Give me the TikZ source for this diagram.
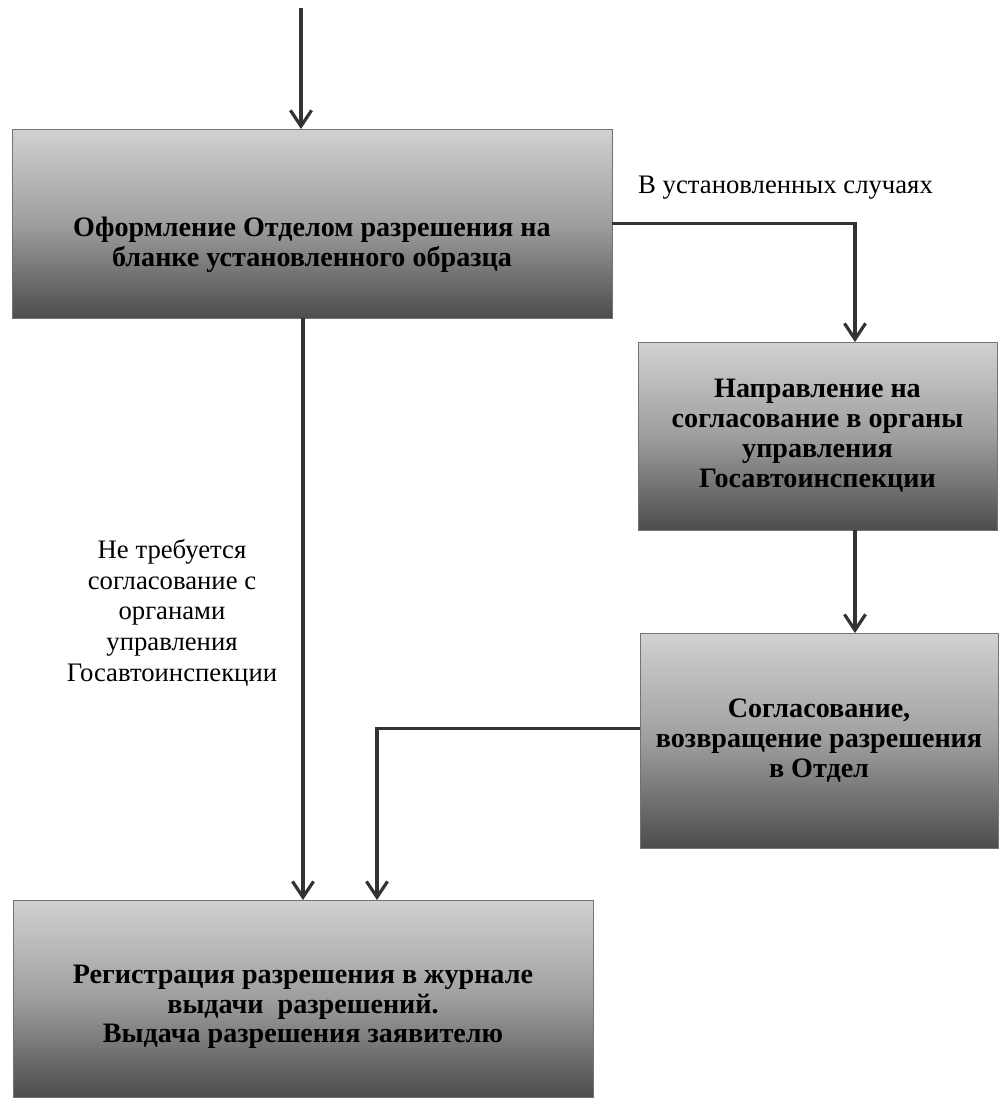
\documentclass[tikz,border=0pt]{standalone}
\usepackage{fontspec}
\setmainfont{Liberation Serif}
\usetikzlibrary{calc,arrows.meta}
\newcommand*{\DiagFont}{\fontsize{15.2}{17.5}\selectfont}
\newcommand*{\BoxFont}{\fontsize{16}{17}\selectfont\bfseries}

\begin{document}
\begin{tikzpicture}[x=0.02cm,y=-0.02cm,
    box/.style={draw=black!55, thin, outer sep=0pt, align=center,
      top color=black!18, bottom color=black!70, middle color=black!38,
      font=\BoxFont},
    note/.style={align=center, font=\DiagFont},
    arr/.style={draw=black!80, line width=1.8pt,
      -{Straight Barb[length=9pt,width=12pt]}}]
    \useasboundingbox (0,0) rectangle (1003,1098);

    % blocks
    \node[box, minimum width=12cm, minimum height=3.78cm, text height=52pt]
      (form) at (312,223.5)
      {Оформление Отделом разрешения на\\бланке установленного образца};
    \node[box, minimum width=7.18cm, minimum height=3.76cm] (appr) at (817.5,436)
      {Направление на\\согласование в органы\\управления\\Госавтоинспекции};
    \node[box, minimum width=7.16cm, minimum height=4.3cm] (agree) at (819,740.5)
      {Согласование,\\возвращение разрешения\\в Отдел};
    \node[box, minimum width=11.6cm, minimum height=3.94cm, text height=54pt]
      (reg) at (303,998.5)
      {Регистрация разрешения в журнале\\выдачи\ \ разрешений.\\Выдача разрешения заявителю};

    % labels
    \node[note, anchor=west] (cases) at (632,188) {В установленных случаях};
    \node[note] (nocheck) at (172,613)
      {Не требуется\\согласование с\\органами\\управления\\Госавтоинспекции};

    \coordinate (entry) at (301,8);
    \coordinate (lx) at (303,0);
    \coordinate (mx) at (377,0);
    \coordinate (rx) at (855,0);

    % connectors
    \draw[arr] (entry) -- (entry |- form.north);
    \draw[arr] (form.east) -| (appr.north -| rx);
    \draw[arr] (appr.south -| rx) -- (agree.north -| rx);
    \draw[arr] (form.south -| lx) -- (reg.north -| lx);
    \draw[arr] ($(agree.west)+(0,-12)$) -| (reg.north -| mx);
\end{tikzpicture}
\end{document}
